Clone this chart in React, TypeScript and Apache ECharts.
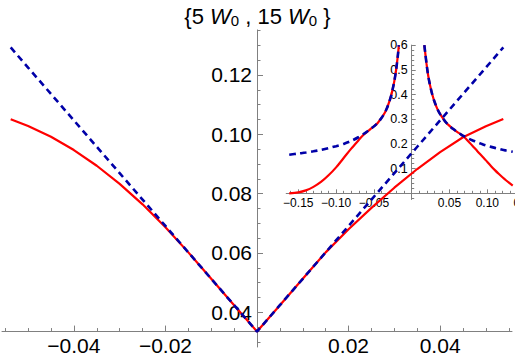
import React, { useEffect, useRef } from 'react';
import * as echarts from 'echarts';

// ---------- data ----------
const MAIN_X = [-0.0538, -0.05, -0.045, -0.04, -0.035, -0.03, -0.025, -0.02, -0.015, -0.01, -0.005, 0, 0.005, 0.01, 0.015, 0.02, 0.025, 0.03, 0.035, 0.04, 0.045, 0.05, 0.0538];
const MAIN_RED = [0.1051, 0.1028, 0.0992, 0.0947, 0.0894, 0.0833, 0.0764, 0.0687, 0.0602, 0.0513, 0.0424, 0.0335, 0.0424, 0.0513, 0.0602, 0.068, 0.0752, 0.082, 0.0883, 0.094, 0.099, 0.1027, 0.1052];
const MAIN_BLUE = [0.1293, 0.1225, 0.1136, 0.1047, 0.0958, 0.0869, 0.078, 0.0691, 0.0602, 0.0513, 0.0424, 0.0335, 0.0424, 0.0513, 0.0602, 0.0691, 0.078, 0.0869, 0.0958, 0.1047, 0.1136, 0.1225, 0.1293];

const INSET_LEFT_X = [-0.162, -0.15, -0.14, -0.13, -0.12, -0.11, -0.1, -0.09, -0.08, -0.07, -0.065, -0.06, -0.055, -0.05, -0.045, -0.04, -0.036, -0.033, -0.03, -0.027, -0.025, -0.023, -0.021, -0.0195, -0.018, -0.017];
const INSET_LEFT_BLUE = [0.156, 0.161, 0.165, 0.17, 0.176, 0.183, 0.191, 0.2, 0.212, 0.228, 0.238, 0.248, 0.259, 0.271, 0.285, 0.305, 0.324, 0.343, 0.368, 0.398, 0.424, 0.454, 0.492, 0.527, 0.568, 0.6];
const INSET_LEFT_RED = [0.0, 0.004, 0.012, 0.026, 0.046, 0.073, 0.105, 0.143, 0.181, 0.216, 0.233, 0.247, 0.259, 0.271, 0.285, 0.305, 0.324, 0.343, 0.368, 0.398, 0.424, 0.454, 0.492, 0.527, 0.568, 0.6];

const INSET_RIGHT_X = [0.0167, 0.018, 0.0195, 0.021, 0.023, 0.025, 0.027, 0.03, 0.033, 0.036, 0.04, 0.045, 0.05, 0.055, 0.06, 0.065, 0.07, 0.075, 0.08, 0.085, 0.09, 0.095, 0.1, 0.105, 0.11, 0.115, 0.12, 0.125, 0.1336];
const INSET_RIGHT_BLUE = [0.6, 0.565, 0.527, 0.492, 0.456, 0.427, 0.402, 0.372, 0.348, 0.329, 0.309, 0.288, 0.273, 0.26, 0.249, 0.239, 0.23, 0.222, 0.215, 0.209, 0.203, 0.197, 0.192, 0.188, 0.184, 0.18, 0.176, 0.173, 0.168];
const INSET_RIGHT_RED = [0.6, 0.565, 0.527, 0.492, 0.456, 0.427, 0.402, 0.372, 0.348, 0.329, 0.309, 0.288, 0.273, 0.26, 0.249, 0.239, 0.226, 0.21, 0.194, 0.177, 0.16, 0.144, 0.127, 0.11, 0.094, 0.079, 0.065, 0.052, 0.031];

// tick labels
const MAIN_X_LABELS = [-0.04, -0.02, 0.02, 0.04];
const MAIN_Y_LABELS = [0.04, 0.06, 0.08, 0.1, 0.12];
const INSET_X_LABELS = [-0.15, -0.1, -0.05, 0.05, 0.1, 0.15];
const INSET_Y_LABELS = [0.1, 0.2, 0.3, 0.4, 0.5, 0.6];

// axis ranges and crossing points
const MAIN_X_RANGE = [-0.0557, 0.0557];
const MAIN_Y_RANGE = [0.0283, 0.1352];
const MAIN_CROSS = [0, 0.0335];
const INSET_X_RANGE = [-0.166, 0.16];
const INSET_Y_RANGE = [-0.025, 0.6];
const INSET_CROSS = [0, 0];

const range = (a: number, b: number, step: number, dec: number) => {
  const out: number[] = [];
  const n = Math.round((b - a) / step);
  for (let i = 0; i <= n; i++) out.push(Number((a + i * step).toFixed(dec)));
  return out;
};
const MAIN_X_MINOR = range(-0.055, 0.055, 0.005, 4);
const MAIN_Y_MINOR = range(0.03, 0.135, 0.005, 4);
const INSET_X_MINOR = range(-0.16, 0.16, 0.01, 3);
const INSET_Y_MINOR = range(-0.02, 0.6, 0.02, 3);

const zip = (xs: number[], ys: number[]) => xs.map((x, i) => [x, ys[i]]);

const FONT = '"Liberation Sans", Arial, Helvetica, sans-serif';
const AXIS_COLOR = '#808080';
const RED = '#ff0000';
const BLUE = '#0000a8';

const fmt = (dec: number) => (v: number) => v.toFixed(dec).replace('-', '\u2212');

export default function App() {
  const ref = useRef<HTMLDivElement>(null);
  useEffect(() => {
    if (!ref.current) return;
    const chart = echarts.init(ref.current, undefined, { renderer: 'svg' });

    const mainGrid = { left: 2, top: 29.9, width: 510, height: 317.1, containLabel: false, outerBoundsMode: 'none' };
    const insetGrid = { left: 286.2, top: 45.1, width: 246.5, height: 154.4, containLabel: false, outerBoundsMode: 'none' };

    // offsets that put each axis through the crossing point of the other axis
    const xOff = (g: any, yr: number[], cy: number) => -((cy - yr[0]) / (yr[1] - yr[0])) * g.height;
    const yOff = (g: any, xr: number[], cx: number) => -((cx - xr[0]) / (xr[1] - xr[0])) * g.width;
    const mainXOffset = xOff(mainGrid, MAIN_Y_RANGE, MAIN_CROSS[1]);
    const mainYOffset = yOff(mainGrid, MAIN_X_RANGE, MAIN_CROSS[0]);
    const insetXOffset = xOff(insetGrid, INSET_Y_RANGE, INSET_CROSS[1]);
    const insetYOffset = yOff(insetGrid, INSET_X_RANGE, INSET_CROSS[0]);

    const lineStyle = { color: AXIS_COLOR, width: 1 };

    const axisCommon = (gridIndex: number, r: number[]) => ({
      gridIndex, type: 'value', min: r[0], max: r[1], splitLine: { show: false }, minorTick: { show: false },
    });
    const label = (values: number[], dec: number, size: number, margin: number) => ({
      show: true, customValues: values, formatter: fmt(dec), fontSize: size, fontFamily: FONT, color: '#000', margin, hideOverlap: false,
    });

    const option: any = {
      animation: false,
      backgroundColor: '#ffffff',
      title: {
        text: '{5 {w|W}{s|0} , 15 {w|W}{s|0} }',
        left: 'center',
        top: -1,
        textStyle: {
          fontFamily: FONT, fontSize: 22, fontWeight: 'normal', color: '#000', lineHeight: 24,
          rich: {
            w: { fontFamily: FONT, fontSize: 22, fontStyle: 'italic', color: '#000', lineHeight: 24 },
            s: { fontFamily: FONT, fontSize: 15, color: '#000', lineHeight: 10, verticalAlign: 'bottom' },
          },
        },
      },
      grid: [mainGrid, insetGrid],
      xAxis: [
        {
          ...axisCommon(0, MAIN_X_RANGE), position: 'bottom', offset: mainXOffset,
          axisLine: { show: true, onZero: false, lineStyle },
          axisTick: { show: true, inside: true, length: 6, customValues: MAIN_X_LABELS, lineStyle },
          axisLabel: label(MAIN_X_LABELS, 2, 21, 3),
        },
        {
          ...axisCommon(0, MAIN_X_RANGE), position: 'bottom', offset: mainXOffset,
          axisLine: { show: false, onZero: false },
          axisTick: { show: true, inside: true, length: 3.5, customValues: MAIN_X_MINOR, lineStyle },
          axisLabel: { show: false },
        },
        {
          ...axisCommon(1, INSET_X_RANGE), position: 'bottom', offset: insetXOffset,
          axisLine: { show: true, onZero: false, lineStyle },
          axisTick: { show: true, inside: true, length: 4, customValues: INSET_X_LABELS, lineStyle },
          axisLabel: label(INSET_X_LABELS, 2, 12, 4),
        },
        {
          ...axisCommon(1, INSET_X_RANGE), position: 'bottom', offset: insetXOffset,
          axisLine: { show: false, onZero: false },
          axisTick: { show: true, inside: true, length: 2.5, customValues: INSET_X_MINOR, lineStyle },
          axisLabel: { show: false },
        },
      ],
      yAxis: [
        {
          ...axisCommon(0, MAIN_Y_RANGE), position: 'left', offset: mainYOffset,
          axisLine: { show: true, onZero: false, lineStyle },
          axisTick: { show: true, inside: true, length: 6, customValues: MAIN_Y_LABELS, lineStyle },
          axisLabel: label(MAIN_Y_LABELS, 2, 21, 5),
        },
        {
          ...axisCommon(0, MAIN_Y_RANGE), position: 'left', offset: mainYOffset,
          axisLine: { show: false, onZero: false },
          axisTick: { show: true, inside: true, length: 3.5, customValues: MAIN_Y_MINOR, lineStyle },
          axisLabel: { show: false },
        },
        {
          ...axisCommon(1, INSET_Y_RANGE), position: 'left', offset: insetYOffset,
          axisLine: { show: true, onZero: false, lineStyle },
          axisTick: { show: true, inside: true, length: 4, customValues: INSET_Y_LABELS, lineStyle },
          axisLabel: label(INSET_Y_LABELS, 1, 12.5, 4),
        },
        {
          ...axisCommon(1, INSET_Y_RANGE), position: 'left', offset: insetYOffset,
          axisLine: { show: false, onZero: false },
          axisTick: { show: true, inside: true, length: 2.5, customValues: INSET_Y_MINOR, lineStyle },
          axisLabel: { show: false },
        },
      ],
      series: [
        { name: 'main red', type: 'line', xAxisIndex: 0, yAxisIndex: 0, data: zip(MAIN_X, MAIN_RED), symbol: 'none', lineStyle: { color: RED, width: 2.2 }, z: 3 },
        { name: 'main blue', type: 'line', xAxisIndex: 0, yAxisIndex: 0, data: zip(MAIN_X, MAIN_BLUE), symbol: 'none', lineStyle: { color: BLUE, width: 2.6, type: [6.5, 4.5] }, z: 4 },
        { name: 'inset red left', type: 'line', xAxisIndex: 2, yAxisIndex: 2, data: zip(INSET_LEFT_X, INSET_LEFT_RED), symbol: 'none', smooth: 0.3, lineStyle: { color: RED, width: 2.2 }, z: 3 },
        { name: 'inset red right', type: 'line', xAxisIndex: 2, yAxisIndex: 2, data: zip(INSET_RIGHT_X, INSET_RIGHT_RED), symbol: 'none', smooth: 0.3, lineStyle: { color: RED, width: 2.2 }, z: 3 },
        { name: 'inset blue left', type: 'line', xAxisIndex: 2, yAxisIndex: 2, data: zip(INSET_LEFT_X, INSET_LEFT_BLUE), symbol: 'none', smooth: 0.3, lineStyle: { color: BLUE, width: 2.6, type: [6.5, 4.5] }, z: 4 },
        { name: 'inset blue right', type: 'line', xAxisIndex: 2, yAxisIndex: 2, data: zip(INSET_RIGHT_X, INSET_RIGHT_BLUE), symbol: 'none', smooth: 0.3, lineStyle: { color: BLUE, width: 2.6, type: [6.5, 4.5] }, z: 4 },
      ],
    };
    chart.setOption(option);
    return () => chart.dispose();
  }, []);
  return <div ref={ref} style={{ position: 'fixed', left: 0, top: 0, width: 515, height: 361, background: '#fff' }} />;
}
